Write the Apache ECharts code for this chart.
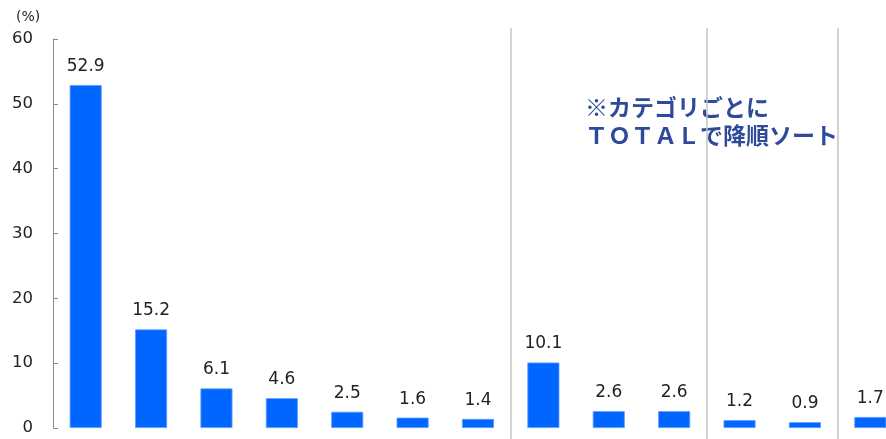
<!DOCTYPE html>
<html>
<head>
<meta charset="utf-8">
<script src="https://cdn.jsdelivr.net/npm/echarts@6/dist/echarts.min.js"></script>
<style>
html,body{margin:0;padding:0;background:#fff;}
#chart{width:886px;height:439px;}
</style>
</head>
<body>
<div id="chart"></div>
<script>
var categories = ["項目1","項目2","項目3","項目4","項目5","項目6","項目7","項目8","項目9","項目10","項目11","項目12","項目13"];
var values = [52.9, 15.2, 6.1, 4.6, 2.5, 1.6, 1.4, 10.1, 2.6, 2.6, 1.2, 0.9, 1.7];
var groupBoundaries = [7, 10, 12];
var yTicks = {min: 0, max: 60, interval: 10};
var unitLabel = "(%)";
var noteLines = ["※カテゴリごとに", "ＴＯＴＡＬで降順ソート"];

var chart = echarts.init(document.getElementById('chart'), null, {renderer: 'canvas'});
var font = 'DejaVu Sans, Verdana, sans-serif';
chart.setOption({
  animation: false,
  backgroundColor: '#fff',
  title: {
    text: unitLabel, left: 11, top: 5,
    textStyle: {fontFamily: font, fontSize: 14, fontWeight: 'normal', color: '#222'}
  },
  grid: [
    {left: 53, width: 850, top: 39, height: 389, outerBoundsMode: 'none', containLabel: false},
    {left: 53, width: 850, top: 28, height: 411, outerBoundsMode: 'none', containLabel: false}
  ],
  xAxis: [
    {
      type: 'category', gridIndex: 0, data: categories,
      axisLine: {show: false}, axisTick: {show: false}, axisLabel: {show: false},
      splitLine: {show: false}
    },
    {
      type: 'category', gridIndex: 1, data: categories,
      axisLine: {show: false}, axisTick: {show: false}, axisLabel: {show: false},
      splitLine: {
        show: true,
        interval: function (index) { return groupBoundaries.indexOf(index) >= 0; },
        lineStyle: {color: '#c4c4c4', width: 1.5}
      }
    }
  ],
  yAxis: [
    {
      type: 'value', gridIndex: 0, min: yTicks.min, max: yTicks.max, interval: yTicks.interval,
      axisLine: {show: true, lineStyle: {color: '#8c8c8c', width: 1}},
      axisTick: {show: true, inside: true, length: 5, lineStyle: {color: '#8c8c8c'}},
      axisLabel: {fontFamily: font, fontSize: 16.5, color: '#222', margin: 20, padding: [4, 0, 0, 0]},
      splitLine: {show: false}
    },
    {type: 'value', gridIndex: 1, show: false, min: 0, max: 1}
  ],
  series: [{
    type: 'bar', xAxisIndex: 0, yAxisIndex: 0, data: values,
    barWidth: 32,
    itemStyle: {color: '#0066FF', borderColor: '#5c9dff', borderWidth: 0.8},
    label: {
      show: true, position: 'top', distance: 10,
      fontFamily: font, fontSize: 17, color: '#222',
      formatter: function (p) { return p.value.toFixed(1); }
    }
  }],
  graphic: [{
    type: 'text', left: 585, top: 93,
    style: {
      text: noteLines.join('\n'),
      fontFamily: 'Noto Sans CJK JP, sans-serif', fontSize: 23, fontWeight: 'bold',
      fill: '#2F4A9B', lineHeight: 28
    }
  }]
});
</script>
</body>
</html>
